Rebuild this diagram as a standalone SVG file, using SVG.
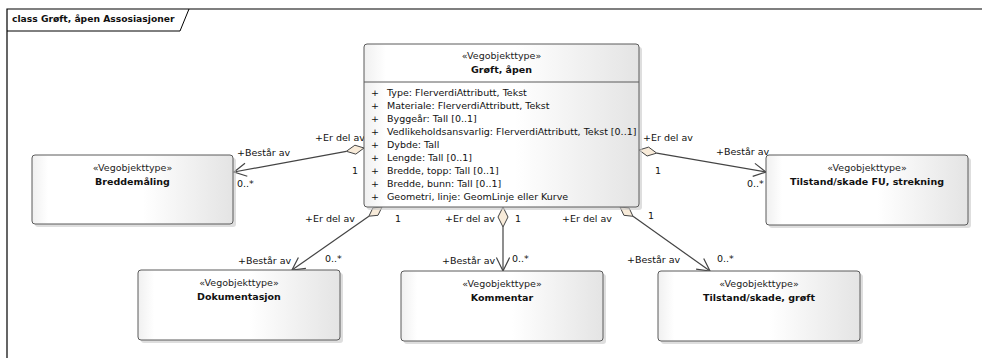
<svg xmlns="http://www.w3.org/2000/svg" width="982" height="358" viewBox="0 0 982 358">
<style>
text{font-family:"DejaVu Sans","Liberation Sans",Arial,sans-serif;font-size:9.5px;fill:#111}
.st{text-anchor:middle;fill:#222}
.nm{text-anchor:middle;font-weight:bold;fill:#111}
.at{fill:#333}
.box{fill:url(#g);stroke:#5a5a5a;stroke-width:1}
.sh{fill:#c8c8c8;opacity:0.6}
.ln{stroke:#444;stroke-width:1.2;fill:none}
.dia{fill:#f8ebd9;stroke:#444;stroke-width:1}
</style>
<defs>
<linearGradient id="g" x1="0" y1="0" x2="1" y2="0">
<stop offset="0" stop-color="#f0f0f0"/>
<stop offset="0.08" stop-color="#ffffff"/>
<stop offset="0.55" stop-color="#ffffff"/>
<stop offset="1" stop-color="#e4e4e4"/>
</linearGradient>
</defs>
<rect x="0" y="0" width="982" height="358" fill="#fff"/>
<g id="frame">
<path d="M7,358 V9 H982" fill="none" stroke="#000" stroke-width="1.2"/>
<path d="M7,31 H180 L189,9" fill="none" stroke="#000" stroke-width="1"/>
<text x="12" y="22" style="font-weight:bold;font-size:9.2px">class Grøft, åpen Assosiasjoner</text>
</g>
<g id="connectors">
<line class="ln" x1="346.3" y1="151.3" x2="234" y2="172"/>
<polygon class="dia" points="364,148 354.9,145.2 346.3,151.3 355.8,154.1"/>
<polyline class="ln" points="247.3,176.2 234,172 245,163.3"/>
<text x="315" y="141">+Er del av</text>
<text x="352" y="174">1</text>
<text x="237" y="156">+Består av</text>
<text x="237" y="187">0..*</text>

<line class="ln" x1="656.7" y1="153.1" x2="766" y2="172"/>
<polygon class="dia" points="639,150 648.6,147.1 656.7,153.1 647.1,156"/>
<polyline class="ln" points="752.7,176.4 766,172 754.9,163.4"/>
<text x="643" y="141">+Er del av</text>
<text x="655" y="174">1</text>
<text x="716" y="155">+Består av</text>
<text x="747" y="187">0..*</text>

<line class="ln" x1="368.9" y1="216.2" x2="292" y2="270"/>
<polygon class="dia" points="382,207 372.9,207.9 368.9,216.2 378,215.3"/>
<polyline class="ln" points="305.9,268.3 292,270 298.4,257.5"/>
<text x="305" y="222">+Er del av</text>
<text x="395" y="222">1</text>
<text x="238" y="264">+Består av</text>
<text x="325" y="262">0..*</text>

<line class="ln" x1="503" y1="227" x2="503" y2="271"/>
<polygon class="dia" points="503,207 498,217 503,227 508,217"/>
<polyline class="ln" points="496.4,257.6 503,271 509.6,257.6"/>
<text x="445" y="222">+Er del av</text>
<text x="515" y="222">1</text>
<text x="442" y="264">+Består av</text>
<text x="512" y="262">0..*</text>

<line class="ln" x1="633" y1="216.3" x2="710" y2="271"/>
<polygon class="dia" points="620,207 629.1,208 633,216.3 623.9,215.3"/>
<polyline class="ln" points="696.1,269.2 710,271 703.7,258.5"/>
<text x="562" y="222">+Er del av</text>
<text x="648" y="219">1</text>
<text x="627" y="263">+Består av</text>
<text x="717" y="262">0..*</text>
</g>
<g id="main">
<rect class="sh" x="367" y="47" width="275" height="163" rx="3"/>
<rect class="box" x="364" y="44" width="275" height="163" rx="3"/>
<line x1="364" y1="82" x2="639" y2="82" stroke="#5a5a5a" stroke-width="1"/>
<text class="st" x="501.5" y="59">«Vegobjekttype»</text>
<text class="nm" x="501.5" y="73">Grøft, åpen</text>
<g class="at">
<text x="371" y="95.5">+</text><text x="387" y="95.5">Type: FlerverdiAttributt, Tekst</text>
<text x="371" y="108.6">+</text><text x="387" y="108.6">Materiale: FlerverdiAttributt, Tekst</text>
<text x="371" y="121.7">+</text><text x="387" y="121.7">Byggeår: Tall [0..1]</text>
<text x="371" y="134.8">+</text><text x="387" y="134.8">Vedlikeholdsansvarlig: FlerverdiAttributt, Tekst [0..1]</text>
<text x="371" y="147.9">+</text><text x="387" y="147.9">Dybde: Tall</text>
<text x="371" y="161">+</text><text x="387" y="161">Lengde: Tall [0..1]</text>
<text x="371" y="174.1">+</text><text x="387" y="174.1">Bredde, topp: Tall [0..1]</text>
<text x="371" y="187.2">+</text><text x="387" y="187.2">Bredde, bunn: Tall [0..1]</text>
<text x="371" y="200.3">+</text><text x="387" y="200.3">Geometri, linje: GeomLinje eller Kurve</text>
</g>
</g>
<g id="breddemaling">
<rect class="sh" x="35" y="158" width="201" height="69" rx="3"/>
<rect class="box" x="32" y="155" width="201" height="69" rx="3"/>
<text class="st" x="132.5" y="171">«Vegobjekttype»</text>
<text class="nm" x="132.5" y="185">Breddemåling</text>
</g>
<g id="tilstand-fu">
<rect class="sh" x="769" y="158" width="202" height="70" rx="3"/>
<rect class="box" x="766" y="155" width="202" height="70" rx="3"/>
<text class="st" x="867" y="171">«Vegobjekttype»</text>
<text class="nm" x="867" y="185">Tilstand/skade FU, strekning</text>
</g>
<g id="dokumentasjon">
<rect class="sh" x="141" y="273" width="202" height="70" rx="3"/>
<rect class="box" x="138" y="270" width="202" height="70" rx="3"/>
<text class="st" x="239" y="286">«Vegobjekttype»</text>
<text class="nm" x="239" y="300">Dokumentasjon</text>
</g>
<g id="kommentar">
<rect class="sh" x="404" y="274" width="202" height="70" rx="3"/>
<rect class="box" x="401" y="271" width="202" height="70" rx="3"/>
<text class="st" x="502" y="287">«Vegobjekttype»</text>
<text class="nm" x="502" y="301">Kommentar</text>
</g>
<g id="tilstand-groft">
<rect class="sh" x="661" y="274" width="202" height="70" rx="3"/>
<rect class="box" x="658" y="271" width="202" height="70" rx="3"/>
<text class="st" x="759" y="287">«Vegobjekttype»</text>
<text class="nm" x="759" y="301">Tilstand/skade, grøft</text>
</g>
</svg>
